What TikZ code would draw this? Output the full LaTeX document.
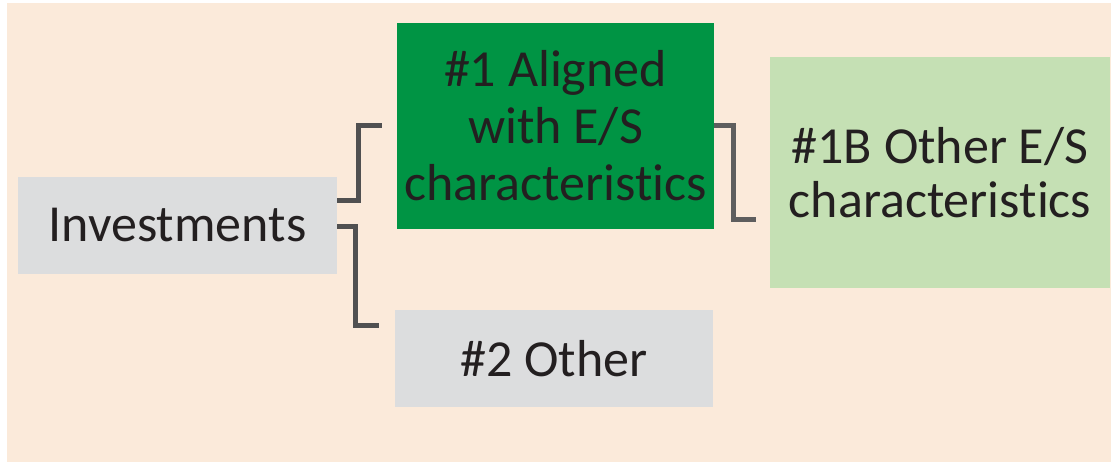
\documentclass[tikz,border=0pt]{standalone}
\usepackage{fontspec}
\setmainfont{Carlito}[Ligatures={NoCommon,NoRare,NoDiscretionary,NoContextual}]
\definecolor{bgc}{HTML}{FBEADA}
\definecolor{grayc}{HTML}{DCDDDE}
\definecolor{greenc}{HTML}{009444}
\definecolor{lgreenc}{HTML}{C5E0B4}
\definecolor{txtc}{HTML}{231F20}
\definecolor{linec}{HTML}{505050}
\definecolor{linec2}{HTML}{5E5E5E}
\tikzset{
  boxnode/.style={rectangle, inner sep=0pt, text=txtc, align=center, font=\fontsize{52}{57}\selectfont},
  conn/.style={draw=linec, line width=5pt, line join=miter},
}
\begin{document}
\begin{tikzpicture}[x=1pt,y=-1pt]
\useasboundingbox (0,0) rectangle (1115,465);
\fill[bgc] (7,3) rectangle (1111,462);
\node[boxnode, fill=grayc, minimum width=319pt, minimum height=97pt] (inv) at (177.5,225.5) {Investments};
\node[boxnode, fill=greenc, minimum width=317pt, minimum height=206pt] (al) at (555.5,126) {\#1 Aligned\\with E/S\\characteristics};
\node[boxnode, fill=lgreenc, minimum width=340pt, minimum height=231pt, font=\fontsize{52}{54}\selectfont] (ob) at (940,172.5) {\#1B Other E/S\\characteristics};
\node[boxnode, fill=grayc, minimum width=318pt, minimum height=97pt] (ot) at (554,358.5) {\#2 Other};
\coordinate (e1) at (382,126);
\coordinate (e2) at (379,325);
\coordinate (e3) at (756,219);
\draw[conn] (inv.east |- 0,200) -- (358,200) -- (358,126) -- (e1);
\draw[conn] (inv.east |- 0,226) -- (355,226) -- (355,325) -- (e2);
\draw[conn, draw=linec2] (al.east |- 0,126) -- (733,126) -- (733,219) -- (e3);
\end{tikzpicture}
\end{document}
